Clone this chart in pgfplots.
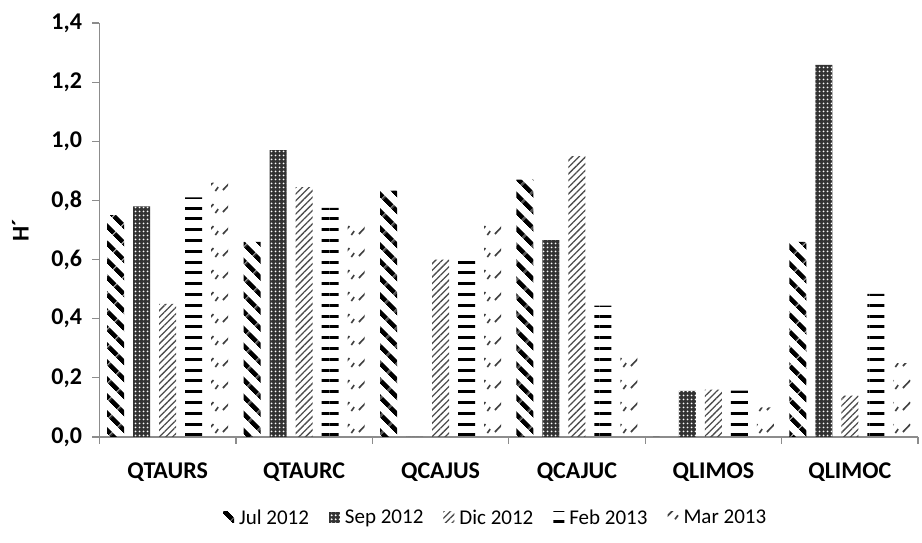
\documentclass[border=0pt]{standalone}
\usepackage{fontspec}
\setmainfont{Carlito}
\usepackage{pgfplots}
\pgfplotsset{compat=1.18}
\usetikzlibrary{patterns,patterns.meta}

\tikzdeclarepattern{
  name=mardash,
  type=uncolored,
  bounding box={(0pt,0pt) and (17pt,21.7pt)},
  tile size={(17pt,21.7pt)},
  code={
    \draw[line width=1.7pt] (2pt,3pt) -- (10pt,11pt);
    \draw[line width=1.7pt] (12pt,2pt) -- (15pt,6pt);
  }
}

\begin{document}
\begin{tikzpicture}
\useasboundingbox (-99.5pt,-106pt) rectangle (822.5pt,437pt);
\begin{axis}[
  at={(0,0)}, anchor=south west,
  scale only axis,
  width=818.5pt, height=414pt,
  ybar, bar width=17pt, ybar=9pt,
  xmin=-0.5, xmax=5.5,
  ymin=0, ymax=1.4,
  ytick={0,0.2,...,1.4},
  xtick={-0.5,0.5,...,5.5},
  x tick label as interval,
  xticklabels={QTAURS,QTAURC,QCAJUS,QCAJUC,QLIMOS,QLIMOC},
  axis x line*=bottom, axis y line*=left,
  axis line style={black!45, line width=1.2pt},
  tick style={black!45, line width=1.2pt},
  tick align=outside, major tick length=7pt,
  /pgf/number format/.cd, assume math mode=true, use comma, fixed, fixed zerofill, precision=1,
  /pgfplots/.cd,
  yticklabel style={font=\bfseries\fontsize{24}{24}\selectfont, xshift=-7pt},
  xticklabel style={font=\bfseries\fontsize{24}{24}\selectfont, yshift=-15pt},
  ylabel={H´},
  ylabel shift=16pt,
  ylabel style={font=\bfseries\fontsize{24}{24}\selectfont},
  legend columns=5,
  legend style={draw=none, fill=none, at={(0.484,-0.195)}, anchor=center,
    font=\fontsize{21}{21}\selectfont,
    /tikz/every odd column/.append style={column sep=3pt},
    /tikz/every even column/.append style={column sep=18pt}},
  legend image code/.code={\path[#1] (0pt,-5pt) rectangle (11pt,6pt);},
]
\addplot[draw=none, pattern={Lines[angle=-45,distance=13pt,line width=5pt]}, pattern color=black]
  coordinates {(0,0.75) (1,0.66) (2,0.833) (3,0.87) (4,0) (5,0.66)};
\addlegendentry{Jul 2012}
\addplot[draw=none, fill=black!80, postaction={pattern={Dots[distance=4pt,radius=1.2pt]}, pattern color=white}]
  coordinates {(0,0.78) (1,0.97) (2,0) (3,0.666) (4,0.156) (5,1.258)};
\addlegendentry{Sep 2012}
\addplot[draw=none, pattern={Lines[angle=45,distance=4.7pt,line width=1.3pt]}, pattern color=black!70]
  coordinates {(0,0.45) (1,0.845) (2,0.60) (3,0.95) (4,0.16) (5,0.14)};
\addlegendentry{Dic 2012}
\addplot[draw=none, pattern={Lines[angle=0,distance=10.8pt,line width=3pt]}, pattern color=black]
  coordinates {(0,0.81) (1,0.775) (2,0.62) (3,0.444) (4,0.157) (5,0.484)};
\addlegendentry{Feb 2013}
\addplot[draw=none, pattern=mardash, pattern color=black!75]
  coordinates {(0,0.86) (1,0.72) (2,0.75) (3,0.286) (4,0.10) (5,0.25)};
\addlegendentry{Mar 2013}
\end{axis}
\end{tikzpicture}
\end{document}
